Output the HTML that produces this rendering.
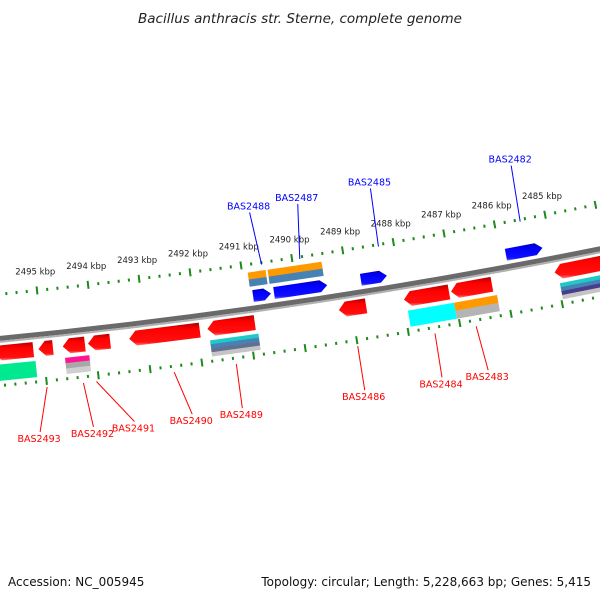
<!DOCTYPE html>
<html><head><meta charset="utf-8">
<style>
html,body{margin:0;padding:0;background:#fff;}
svg{display:block;font-family:"DejaVu Sans","Liberation Sans",sans-serif;}
</style></head>
<body>
<svg id="map" width="600" height="600" viewBox="0 0 600 600">
<defs>
<linearGradient id="gRed" x1="0" y1="0" x2="0" y2="1"><stop offset="0" stop-color="#b00000"/><stop offset="0.3" stop-color="#ff0000"/><stop offset="0.85" stop-color="#ff1010"/><stop offset="1" stop-color="#ff8080"/></linearGradient>
<linearGradient id="gBlue" x1="0" y1="0" x2="0" y2="1"><stop offset="0" stop-color="#0000b0"/><stop offset="0.3" stop-color="#0000ff"/><stop offset="0.85" stop-color="#1010ff"/><stop offset="1" stop-color="#8080ff"/></linearGradient>
</defs>
<text x="300" y="23" text-anchor="middle" font-size="13.5" font-style="italic" fill="#222">Bacillus anthracis str. Sterne, complete genome</text>
<g id="rings"></g>
<g id="genes"></g>
<g id="labels"></g>
<text x="8" y="586" font-size="12" fill="#111">Accession: NC_005945</text>
<text x="591" y="586" text-anchor="end" font-size="12" fill="#111">Topology: circular; Length: 5,228,663 bp; Genes: 5,415</text>
</svg>
<script>
// data (kbp)
const tickKbp = [2484,2485,2486,2487,2488,2489,2490,2491,2492,2493,2494,2495,2496];
const labeledKbp = [2485,2486,2487,2488,2489,2490,2491,2492,2493,2494,2495];
const fwdStart = [2490.85, 2490.44, 2488.74, 2485.89];
const fwdEnd   = [2490.50, 2489.40, 2488.23, 2485.17];
const fwd2Start = [2490.89, 2490.50];
const fwd2End   = [2490.54, 2489.44];
const revStart = [2495.95, 2495.09, 2494.62, 2494.13, 2493.33, 2491.81, 2489.25, 2487.98, 2487.06, 2485.03];
const revEnd   = [2495.19, 2494.81, 2494.19, 2493.70, 2491.96, 2490.89, 2488.72, 2487.10, 2486.26, 2483.80];
const rev2Start = [2495.95, 2494.60, 2491.79, 2487.94, 2487.04, 2484.97];
const rev2End   = [2495.17, 2494.13, 2490.85, 2487.04, 2486.20, 2483.80];
const rev2Colors = [["#00e890"],["#ff1493","#a8a8a8","#cfcfcf"],["#20c8c8","#4682b4","#607090","#c4c4c4"],["#00ffff"],["#ff9900","#b4b4b4"],["#20c8c8","#4682b4","#483d8b","#c4c4c4"]];
const fwd2Colors = [["#ff9900","#4682b4"],["#ff9900","#4682b4"]];
const blueNames = ["BAS2488","BAS2487","BAS2485","BAS2482"];
const blueKbp = [2490.6, 2489.85, 2488.3, 2485.5];
const redNames = ["BAS2493","BAS2492","BAS2491","BAS2490","BAS2489","BAS2486","BAS2484","BAS2483"];
const redKbp = [2495.0, 2494.3, 2494.05, 2492.55, 2491.35, 2489.0, 2487.5, 2486.7];

const NS="http://www.w3.org/2000/svg";
const cx=-585, cy=-5632, th0=0.10464, dth=0.008628, RB=6000;
function ang(k){return th0+(2495-k)*dth;}
function P(k,r){const t=ang(k);return [cx+r*Math.sin(t), cy+r*Math.cos(t)];}
function mk(tag,attrs,parent){const e=document.createElementNS(NS,tag);for(const a in attrs)e.setAttribute(a,attrs[a]);parent.appendChild(e);return e;}
function arcPath(k1,k2,r){const a=P(k1,r),b=P(k2,r);return `M${a[0]},${a[1]} A${r},${r} 0 0 0 ${b[0]},${b[1]}`;}
const rings=document.getElementById('rings'), genes=document.getElementById('genes'), labels=document.getElementById('labels');

let bb=mk('path',{d:arcPath(2497,2483,RB-1),stroke:'#6a6a6a','stroke-width':5,fill:'none'},rings);


let bb2=mk('path',{d:arcPath(2497,2483,RB+2.5),stroke:'#b0b0b0','stroke-width':2,fill:'none'},rings);



function ticks(r,name,withLabels){
  const g=mk('g',{},rings);
  
  
  for(let i=0;i<tickKbp.length;i++){
    const k=tickKbp[i];
    const a=P(k,r-4),b=P(k,r+4);
    const t=mk('line',{x1:a[0],y1:a[1],x2:b[0],y2:b[1],stroke:'#1d8a1d','stroke-width':2},g);
    
    
    for(let j=1;j<5;j++){
      const kk=k-j*0.2;
      const c=P(kk,r-1.5),d=P(kk,r+1.5);
      const m=mk('line',{x1:c[0],y1:c[1],x2:d[0],y2:d[1],stroke:'#1d8a1d','stroke-width':2},g);
      
      
    }
  }
  if(withLabels){
    for(const k of labeledKbp){
      const p=P(k,r-16);
      const t=mk('text',{x:p[0],y:p[1],'text-anchor':'middle','font-size':8.5,fill:'#222'},g);
      t.textContent=k+' kbp';
      
      
    }
  }
}
ticks(RB-45,'upper-tick-ring',true);
ticks(RB+46,'lower-tick-ring',false);

function arrow(k1,k2,r1,r2,dir,fill,parent,name){
  const head=7/(RB*dth);
  const len=Math.abs(k1-k2);
  const h=Math.min(head,len*0.6);
  const s=k1>k2?-1:1;
  let pts;
  const rm=(r1+r2)/2;
  if(dir>0){
    const kb=k2-s*h;
    pts=[P(k1,r1),P(kb,r1),P(k2,rm),P(kb,r2),P(k1,r2)];
  } else {
    const kb=k1+s*h;
    pts=[P(k1,rm),P(kb,r1),P(k2,r1),P(k2,r2),P(kb,r2)];
  }
  const e=mk('polygon',{points:pts.map(p=>p.join(',')).join(' '),fill:fill},parent);
  
  
}
function band(k1,k2,r1,r2,fill,parent,name){
  const pts=[P(k1,r1),P(k2,r1),P(k2,r2),P(k1,r2)];
  const e=mk('polygon',{points:pts.map(p=>p.join(',')).join(' '),fill:fill},parent);
  
  
}
for(let i=0;i<fwdStart.length;i++) arrow(fwdStart[i],fwdEnd[i],RB-19,RB-7,1,'url(#gBlue)',genes,'forward-gene');
for(let i=0;i<revStart.length;i++) arrow(revStart[i],revEnd[i],RB+6,RB+21,-1,'url(#gRed)',genes,'reverse-gene');
function stripes(s,e,r1,r2,cols,name){
  const n=cols.length,h=(r2-r1)/n;
  for(let j=0;j<n;j++) band(s[0],e[0],r1+j*h,r1+(j+1)*h+0.3,cols[j],genes,name);
}
for(let i=0;i<fwd2Start.length;i++) stripes([fwd2Start[i]],[fwd2End[i]],RB-37,RB-23,fwd2Colors[i],'forward-feature');
for(let i=0;i<rev2Start.length;i++) stripes([rev2Start[i]],[rev2End[i]],RB+25,RB+41,rev2Colors[i],'reverse-feature');

const blueOff=[[-12,-52],[-2,-55],[-8,-58],[-9,-56]];
for(let i=0;i<blueNames.length;i++){
  const a=P(blueKbp[i],RB-43);
  const o=blueOff[i];
  const b=[a[0]+o[0],a[1]+o[1]];
  const l=mk('line',{x1:a[0],y1:a[1],x2:b[0],y2:b[1],stroke:'#0000ff','stroke-width':1},labels);
  
  
  const t=mk('text',{x:b[0]-1,y:b[1]-3,'text-anchor':'middle','font-size':9.5,fill:'#0000ff'},labels);
  t.textContent=blueNames[i];
  
  
}
const redOff=[[-7,45],[10,44],[38,40],[18,42],[6,44],[7,44],[7,44],[12,44]];
for(let i=0;i<redNames.length;i++){
  const a=P(redKbp[i],RB+52);
  const o=redOff[i];
  const b=[a[0]+o[0],a[1]+o[1]];
  const l=mk('line',{x1:a[0],y1:a[1],x2:b[0],y2:b[1],stroke:'#ff0000','stroke-width':1},labels);
  
  
  const t=mk('text',{x:b[0]-1,y:b[1]+10,'text-anchor':'middle','font-size':9.5,fill:'#ff0000'},labels);
  t.textContent=redNames[i];
  
  
}
</script>
</body></html>
